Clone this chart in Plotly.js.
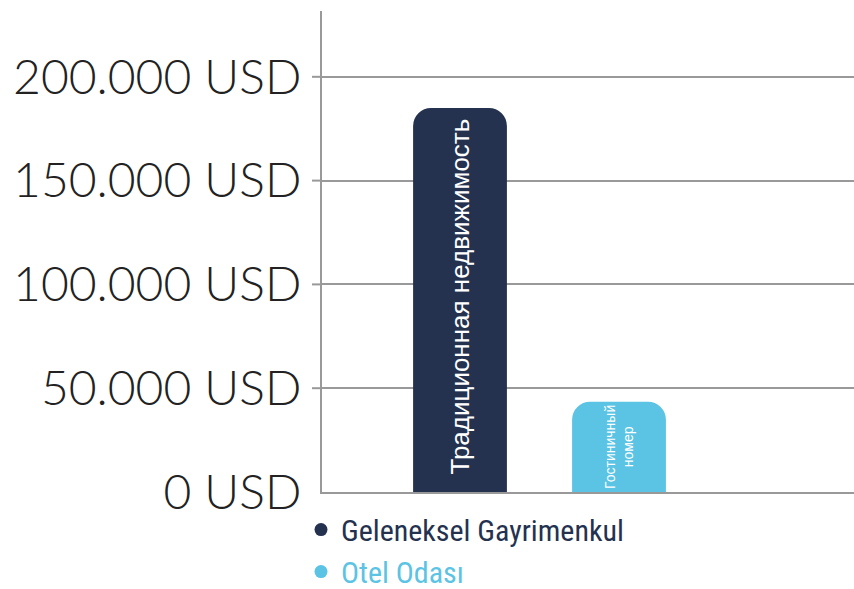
<!DOCTYPE html>
<html>
<head>
<meta charset="utf-8">
<script src="https://cdn.plot.ly/plotly-3.0.1.min.js"></script>
<style>html,body{margin:0;padding:0;background:#fff;}#chart{width:854px;height:589px;}</style>
</head>
<body>
<div id="chart"></div>
<script>
const categories = ['Geleneksel Gayrimenkul', 'Otel Odası'];
const values = [185000, 43500];
const barLabels = ['\u00a0\u00a0Традиционная недвижимость', 'Гостиничный<br>номер'];
const barLabelSizes = [26, 15];
const colors = ['#243250', '#5bc3e3'];
const tickVals = [0, 50000, 100000, 150000, 200000];
const tickText = ['0 USD', '50.000 USD', '100.000 USD', '150.000 USD', '200.000 USD'];

const plotW = 854 - 322;
const traces = [];
categories.forEach((c, i) => {
  traces.push({
    type: 'bar', x: [c], y: [values[i]], text: [barLabels[i]],
    textposition: 'inside', textangle: -90, insidetextanchor: 'start', constraintext: 'none',
    textfont: {color: '#ffffff', size: barLabelSizes[i], family: 'Liberation Sans, Arial, sans-serif'},
    marker: {color: colors[i], cornerradius: 18},
    width: 0.59, showlegend: false, hoverinfo: 'skip'
  });
});
categories.forEach((c, i) => {
  traces.push({
    type: 'scatter', mode: 'markers', x: [null], y: [null],
    marker: {symbol: 'circle', size: 13, color: colors[i]},
    name: '<span style="color:' + colors[i] + '">' + c + '</span>',
    hoverinfo: 'skip'
  });
});

const shapes = tickVals.filter(v => v > 0).map(v => ({
  type: 'line', xref: 'paper', yref: 'y', x0: -10 / plotW, x1: 0, y0: v, y1: v,
  line: {color: '#999999', width: 2}
}));

const layout = {
  width: 854, height: 589,
  margin: {l: 322, r: 0, t: 11, b: 97, autoexpand: false},
  paper_bgcolor: '#ffffff', plot_bgcolor: '#ffffff',
  barmode: 'overlay',
  showlegend: true,
  legend: {
    x: -21 / plotW, xanchor: 'left', y: -0.024, yanchor: 'top',
    orientation: 'v', itemwidth: 30,
    font: {family: 'Roboto Condensed, Roboto, sans-serif', size: 30, color: '#243250'},
    tracegroupgap: 0
  },
  xaxis: {
    type: 'category', categoryarray: categories, range: [-0.868, 2.478],
    showticklabels: false, showgrid: false, zeroline: false,
    showline: true, linecolor: '#999999', linewidth: 2, fixedrange: true
  },
  yaxis: {
    range: [0, 231700], tickmode: 'array', tickvals: tickVals, ticktext: tickText,
    showgrid: true, gridcolor: '#999999', gridwidth: 2,
    zeroline: false, showline: true, linecolor: '#999999', linewidth: 2,
    ticks: '', ticklabelstandoff: 9,
    tickfont: {family: 'Lato, sans-serif', size: 48, color: '#222222', weight: 300}
  },
  shapes: shapes
};

Plotly.newPlot('chart', traces, layout, {displayModeBar: false, staticPlot: true});
</script>
</body>
</html>
